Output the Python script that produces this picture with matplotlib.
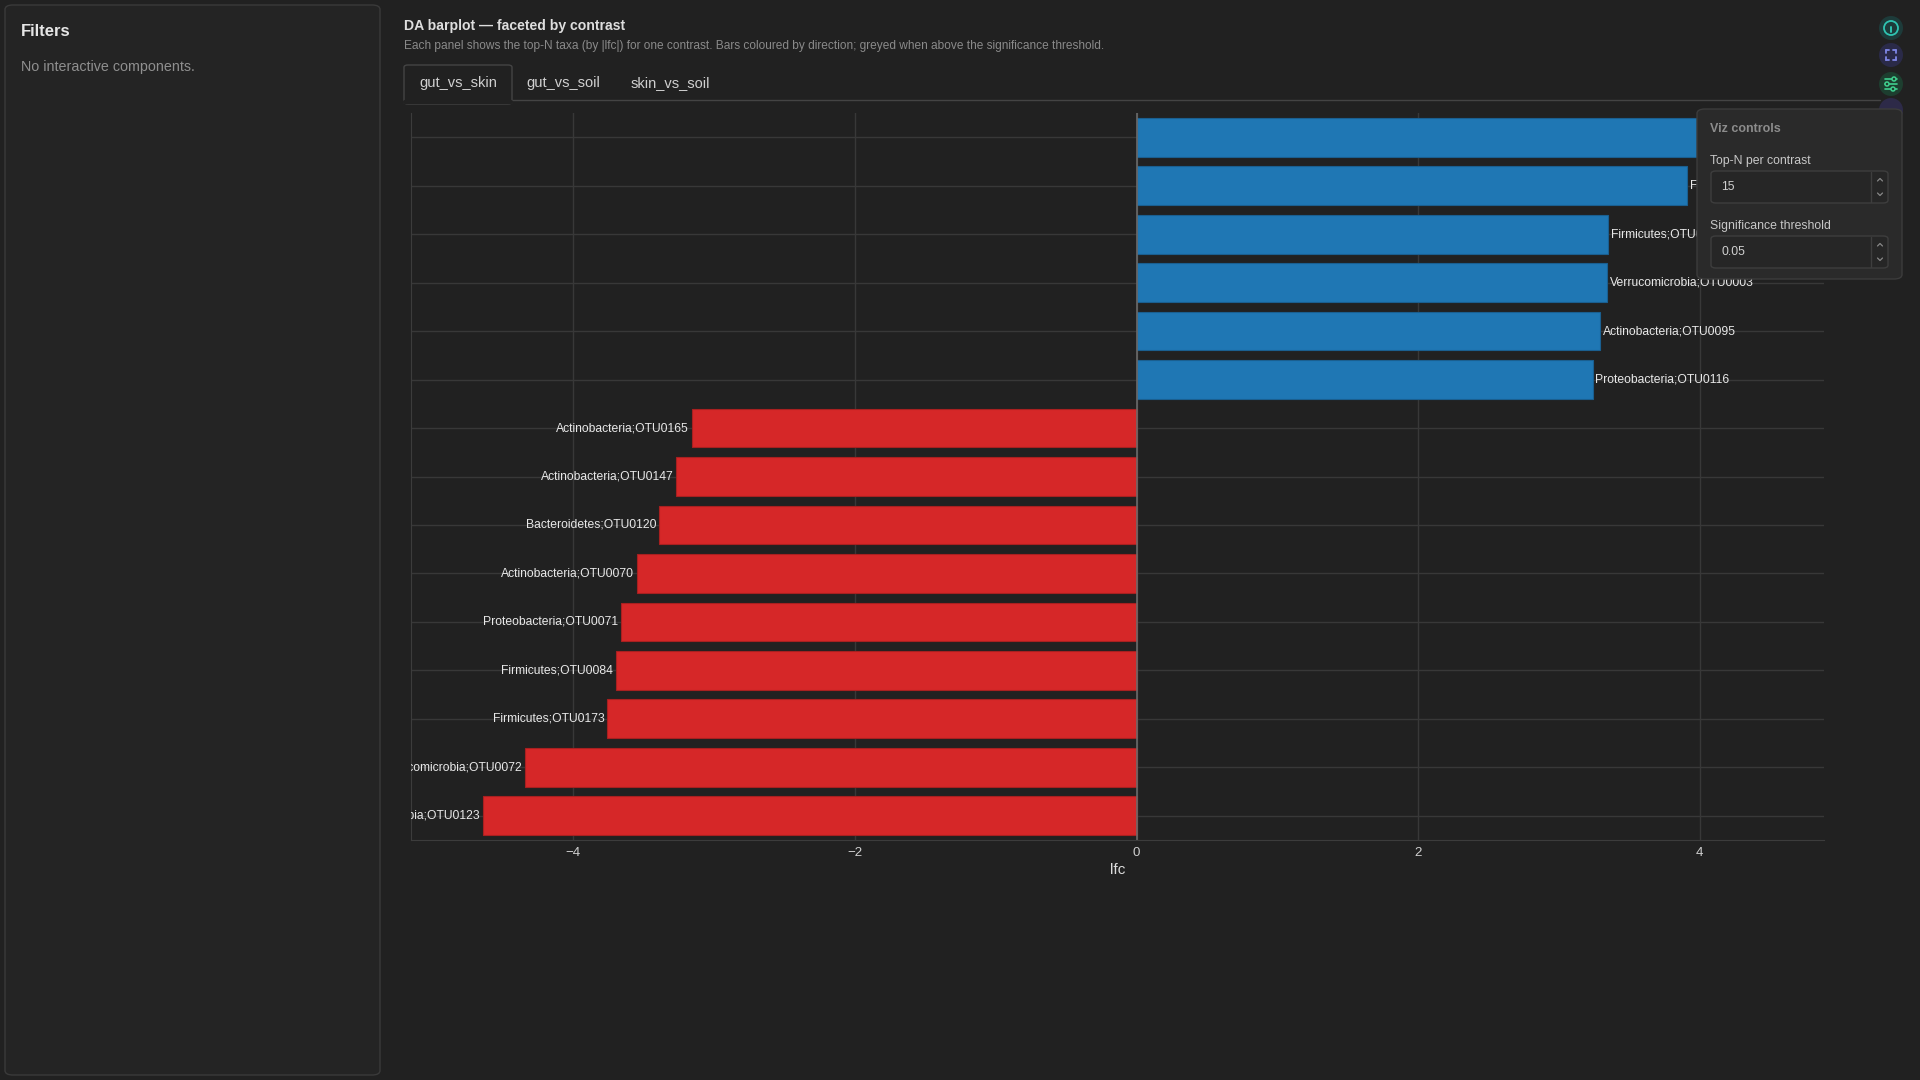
import matplotlib
matplotlib.use("Agg")
import matplotlib.pyplot as plt
from matplotlib.patches import FancyBboxPatch, Ellipse
from matplotlib.transforms import Bbox
import numpy as np

# data: top-N taxa for gut_vs_skin, top to bottom
taxa = [
    "Bacteroidetes;OTU0012", "Firmicutes;OTU0158", "Firmicutes;OTU0041",
    "Verrucomicrobia;OTU0003", "Actinobacteria;OTU0095", "Proteobacteria;OTU0116",
    "Actinobacteria;OTU0165", "Actinobacteria;OTU0147", "Bacteroidetes;OTU0120",
    "Actinobacteria;OTU0070", "Proteobacteria;OTU0071", "Firmicutes;OTU0084",
    "Firmicutes;OTU0173", "Verrucomicrobia;OTU0072", "Verrucomicrobia;OTU0123",
]
lfc = [4.15, 3.91, 3.35, 3.34, 3.29, 3.24,
       -3.16, -3.27, -3.39, -3.55, -3.66, -3.70, -3.76, -4.34, -4.64]
tabs = ["gut_vs_skin", "gut_vs_soil", "skin_vs_soil"]
xticks = [-4, -2, 0, 2, 4]

W, H = 1920, 1080
BG = "#212121"
FONT = "Liberation Sans"
plt.rcParams["font.family"] = [FONT, "DejaVu Sans"]

fig = plt.figure(figsize=(W / 100, H / 100), dpi=100, facecolor=BG)


def fx(x):
    return x / W


def fy(y):
    return 1 - y / H


def box(x0, y0, x1, y1, fc, ec, r=6, lw=1.0, z=1):
    p = FancyBboxPatch((fx(x0), fy(y1)), fx(x1) - fx(x0), fy(y0) - fy(y1),
                       boxstyle=f"round,pad=0,rounding_size={r / W}",
                       transform=fig.transFigure, fc=fc, ec=ec, lw=lw, zorder=z)
    fig.add_artist(p)
    return p


def line(xs, ys, color, lw=1.2, z=6):
    fig.add_artist(plt.Line2D([fx(v) for v in xs], [fy(v) for v in ys],
                              transform=fig.transFigure, color=color, lw=lw, zorder=z,
                              solid_capstyle="round"))


def circ(x, y, r, fc, ec="none", lw=1.0, z=5):
    fig.add_artist(Ellipse((fx(x), fy(y)), 2 * r / W, 2 * r / H, transform=fig.transFigure,
                           fc=fc, ec=ec, lw=lw, zorder=z))


# left filter panel
box(5, 5, 380, 1075, "#242424", "#3a3a3a", r=8)
fig.text(fx(21), fy(32), "Filters", fontsize=12, fontweight="bold", color="#e6e6e6",
         va="center")
fig.text(fx(21), fy(67), "No interactive components.", fontsize=10.3, color="#8f8f8f",
         va="center")

# header
fig.text(fx(404), fy(26), "DA barplot \u2014 faceted by contrast", fontsize=10.1,
         fontweight="bold", color="#dedede", va="center")
fig.text(fx(404), fy(46), "Each panel shows the top-N taxa (by |lfc|) for one contrast. "
         "Bars coloured by direction; greyed when above the significance threshold.",
         fontsize=8.6, color="#8a8a8a", va="center")

# tabs
line([512, 1880], [100, 100], "#444444", lw=1, z=1)
box(404, 65, 512, 104, BG, "#444444", r=4)
line([405, 511], [101.5, 101.5], BG, lw=3, z=3)
for label, x in zip(tabs, [458, 563, 670]):
    fig.text(fx(x), fy(83), label, fontsize=10.5, color="#d0d0d0", ha="center", va="center")

# chart
ax = fig.add_axes([fx(411), fy(840), fx(1824) - fx(411), fy(113) - fy(840)])
ax.set_facecolor(BG)
y = np.arange(len(taxa))
colors = ["#1f77b4" if v > 0 else "#d62728" for v in lfc]
edges = ["#1a5f90" if v > 0 else "#a82020" for v in lfc]
ax.barh(y, lfc, height=0.8, color=colors, edgecolor=edges, linewidth=0.8, zorder=2)
# labels in rows under the controls overlay are cut at its left edge
hidden_clip = Bbox([[411, H - 840], [1697, H - 113]])
for yi, v, t in zip(y, lfc, taxa):
    txt = ax.text(v + (0.02 if v > 0 else -0.02), yi, t, ha="left" if v > 0 else "right",
                  va="center", fontsize=8.7, color="#e8e8e8", clip_on=True, zorder=3)
    if yi < 3:
        txt.set_clip_box(hidden_clip)
ax.set_xlim(-5.153, 4.883)
ax.set_ylim(14.5, -0.5)
ax.set_xticks(xticks)
ax.set_xticklabels(["\u22124", "\u22122", "0", "2", "4"])
ax.set_yticks(y)
ax.set_yticklabels([])
ax.tick_params(length=0, colors="#cfcfcf", labelsize=9.6, pad=5)
ax.grid(True, color="#383838", lw=1, zorder=0)
ax.axvline(0, color="#6a6a6a", lw=1.2, zorder=2.5)
for s in ["top", "right"]:
    ax.spines[s].set_visible(False)
for s in ["left", "bottom"]:
    ax.spines[s].set_color("#3c3c3c")
ax.set_xlabel("lfc", fontsize=11, color="#dcdcdc", labelpad=3)

# right icon strip
for cy, bg in [(28, "#1d3b3a"), (55, "#2a2a48"), (84, "#1d3e2f"), (110, "#2d2a48")]:
    circ(1891, cy, 12, bg)
# info icon
circ(1891, 28, 7, "none", ec="#2fc4b2", lw=1.3, z=6)
line([1891, 1891], [27, 32], "#2fc4b2", lw=1.4)
line([1891, 1891], [24.2, 24.4], "#2fc4b2", lw=1.6)
# fullscreen corners
c = "#7f86e6"
for sx in (-1, 1):
    for sy in (-1, 1):
        cx, cy = 1891 + 5 * sx, 55 + 5 * sy
        line([cx, cx], [cy, cy - 3 * sy], c, lw=1.3)
        line([cx, cx - 3 * sx], [cy, cy], c, lw=1.3)
# sliders icon
g = "#3fcf8e"
for dy, kx in ((-5, 1894), (0, 1887), (5, 1893)):
    line([1885, 1897], [84 + dy, 84 + dy], g, lw=1.2)
    circ(kx, 84 + dy, 2, "#1d3e2f", ec=g, lw=1.1, z=7)

# viz controls overlay
box(1697, 109, 1902, 279, "#2a2a2a", "#3c3c3c", r=8, z=10)
fig.text(fx(1710), fy(129), "Viz controls", fontsize=9, fontweight="bold", color="#8c8c8c",
         va="center", zorder=11)
fig.text(fx(1710), fy(161), "Top-N per contrast", fontsize=8.8, color="#c8c8c8",
         va="center", zorder=11)
fig.text(fx(1710), fy(226), "Significance threshold", fontsize=8.8, color="#c8c8c8",
         va="center", zorder=11)
for y0, val in [(171, "15"), (236, "0.05")]:
    box(1711, y0, 1888, y0 + 32, "#262626", "#3e3e3e", r=5, z=11)
    line([1871, 1871], [y0 + 1, y0 + 31], "#3e3e3e", lw=1, z=12)
    fig.text(fx(1721), fy(y0 + 16), val, fontsize=8.8, color="#d0d0d0", va="center", zorder=12)
    line([1877.5, 1880, 1882.5], [y0 + 10, y0 + 7.5, y0 + 10], "#888888", lw=0.9, z=12)
    line([1877.5, 1880, 1882.5], [y0 + 22, y0 + 24.5, y0 + 22], "#888888", lw=0.9, z=12)

fig.savefig("out.png", dpi=100, facecolor=BG)
